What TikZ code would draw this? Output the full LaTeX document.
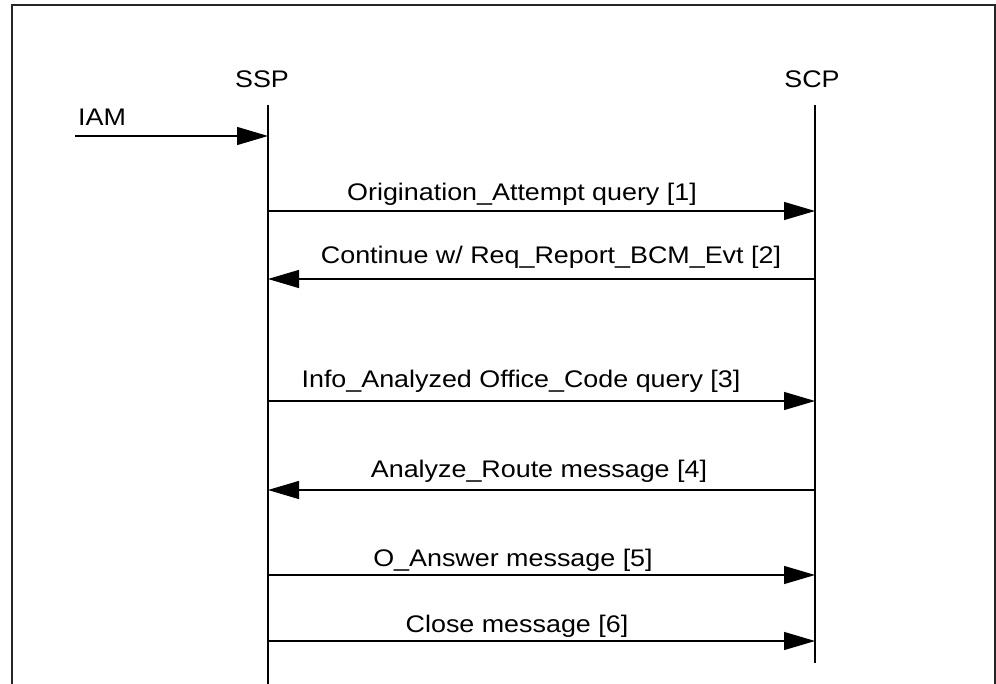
\documentclass[tikz,border=0pt]{standalone}
\usepackage{fontspec}
\setmainfont[FakeStretch=1.12]{Liberation Sans}
\usetikzlibrary{arrows.meta}
\begin{document}
\begin{tikzpicture}[x=1pt,y=-1pt,
  line/.style={line width=1.3pt,black},
  msg/.style={line,-{Triangle[length=31pt,width=18pt]}},
  lbl/.style={anchor=base,inner sep=0pt,font=\fontsize{24}{28}\selectfont},
  frame/.style={line width=1.6pt,black!85}]
\useasboundingbox (0,0) rectangle (996,684);
% outer frame (bottom edge runs off the page)
\draw[frame] (12,700) -- (12,5) -- (995,5) -- (995,700);

% participants
\node[lbl] (ssp) at (262,88) {SSP};
\node[lbl] (scp) at (812,88) {SCP};

% lifelines
\coordinate (sspTop) at (268,105);
\coordinate (sspBot) at (268,684);
\coordinate (scpTop) at (815,105);
\coordinate (scpBot) at (815,663);
\draw[line] (sspTop) -- (sspBot);
\draw[line] (scpTop) -- (scpBot);

% incoming IAM
\coordinate (iamSrc) at (75,136);
\coordinate (iamDst) at (268,136);
\node[lbl,anchor=base west] (iam) at (78,126) {IAM};
\draw[msg] (iamSrc) -- (iamDst);

% message anchor points on the lifelines
\foreach \i/\y in {1/211,2/279,3/401,4/490,5/575,6/641}{
  \coordinate (s\i) at (268,\y);
  \coordinate (c\i) at (815,\y);
}

% messages
\draw[msg] (s1) -- (c1);
\node[lbl] (m1) at (522,201) {Origination\_Attempt query [1]};
\draw[msg] (c2) -- (s2);
\node[lbl] (m2) at (551,264) {Continue w/ Req\_Report\_BCM\_Evt [2]};
\draw[msg] (s3) -- (c3);
\node[lbl] (m3) at (521,388) {Info\_Analyzed Office\_Code query [3]};
\draw[msg] (c4) -- (s4);
\node[lbl] (m4) at (539,477) {Analyze\_Route message [4]};
\draw[msg] (s5) -- (c5);
\node[lbl] (m5) at (513,566) {O\_Answer message [5]};
\draw[msg] (s6) -- (c6);
\node[lbl] (m6) at (517,632) {Close message [6]};
\end{tikzpicture}
\end{document}
